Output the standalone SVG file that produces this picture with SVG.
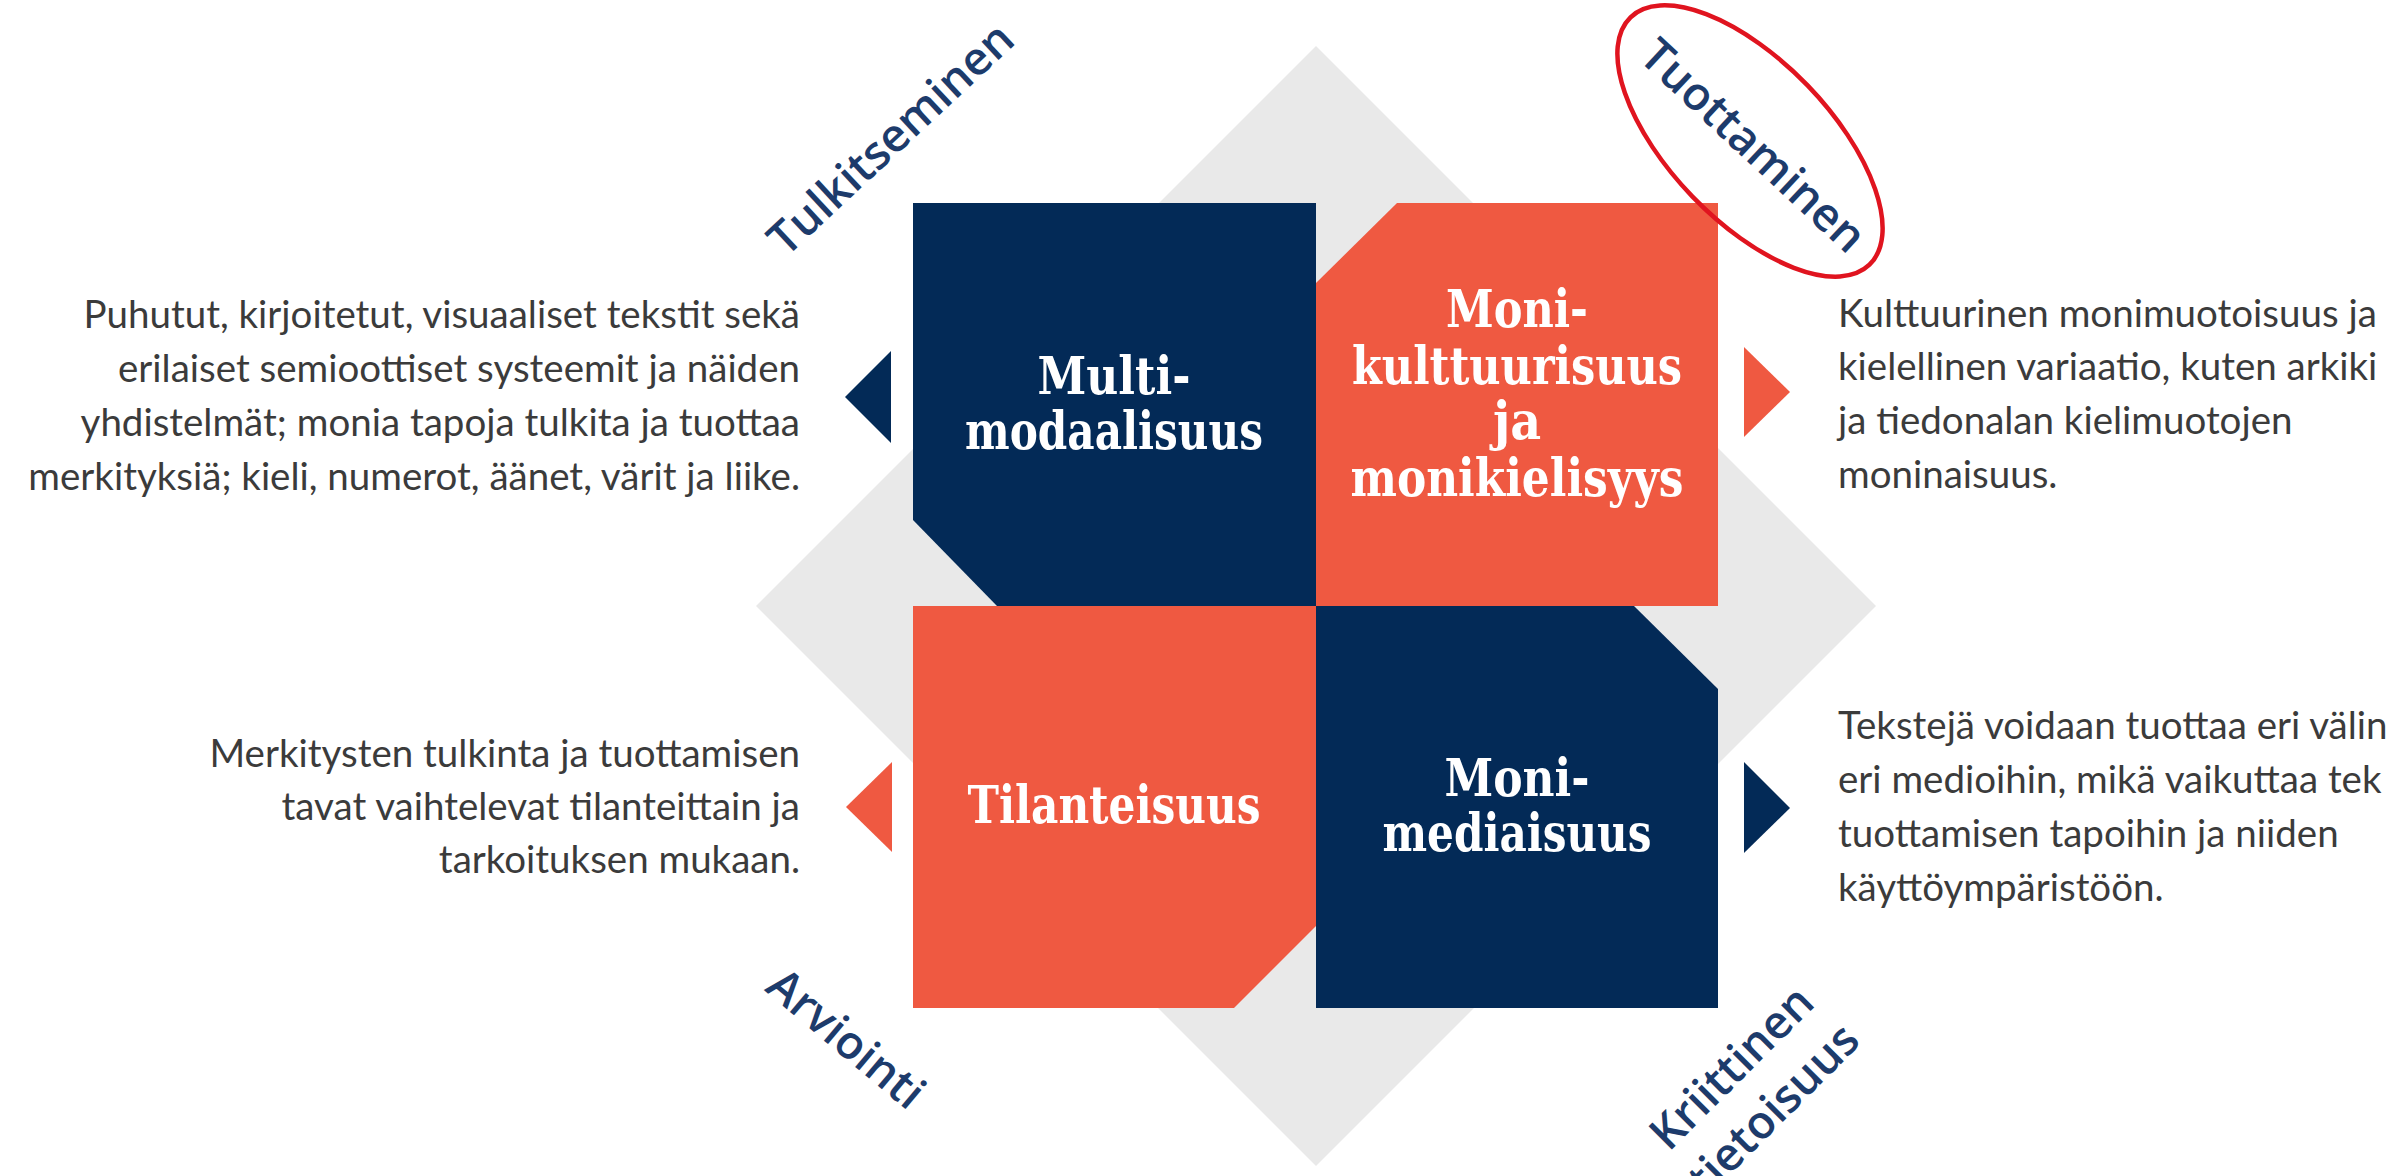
<svg xmlns="http://www.w3.org/2000/svg" width="2387" height="1176" viewBox="0 0 2387 1176">
<style>
.bg{fill:#e9e9e9}
.navy{fill:#032a57}
.orange{fill:#ef5941}
.blk{font-family:"DejaVu Serif Condensed","DejaVu Serif",serif;font-weight:bold;font-size:53px;fill:#ffffff;text-anchor:middle}
.side{font-family:Lato,"Open Sans",sans-serif;font-size:38.5px;fill:#3b3b3b}
.lbl{font-family:"Open Sans",sans-serif;font-weight:600;font-size:46px;fill:#1d3b6b;text-anchor:middle}
.ring{fill:none;stroke:#e0141f;stroke-width:4.5}
</style>
<rect width="2387" height="1176" fill="#ffffff"/>
<g id="background">
<polygon class="bg" points="1316,46 1876,606 1316,1166 756,606"/>
</g>
<g id="multimodaalisuus">
<path class="navy" d="M913,203 H1316 V606 H997 L913,520 Z"/>
<text class="blk" x="1114" y="394" textLength="153" lengthAdjust="spacingAndGlyphs">Multi-</text>
<text class="blk" x="1114" y="449" textLength="298" lengthAdjust="spacingAndGlyphs">modaalisuus</text>
</g>
<g id="monikulttuurisuus">
<path class="orange" d="M1397,203 H1718 V606 H1316 V283 Z"/>
<text class="blk" x="1517" y="327" textLength="142" lengthAdjust="spacingAndGlyphs">Moni-</text>
<text class="blk" x="1517" y="384" textLength="330" lengthAdjust="spacingAndGlyphs">kulttuurisuus</text>
<text class="blk" x="1517" y="439">ja</text>
<text class="blk" x="1517" y="496" textLength="333" lengthAdjust="spacingAndGlyphs">monikielisyys</text>
</g>
<g id="tilanteisuus">
<path class="orange" d="M913,606 H1316 V926 L1234,1008 H913 Z"/>
<text class="blk" x="1114" y="823" textLength="293" lengthAdjust="spacingAndGlyphs">Tilanteisuus</text>
</g>
<g id="monimediaisuus">
<path class="navy" d="M1316,606 H1634 L1718,689 V1008 H1316 Z"/>
<text class="blk" x="1517" y="796" textLength="145" lengthAdjust="spacingAndGlyphs">Moni-</text>
<text class="blk" x="1517" y="851" textLength="269" lengthAdjust="spacingAndGlyphs">mediaisuus</text>
</g>
<g id="connectors">
<polygon class="navy" points="891,351 891,443 845,397"/>
<polygon class="orange" points="1744,347 1744,437 1790,392"/>
<polygon class="orange" points="892,762 892,852 846,807"/>
<polygon class="navy" points="1744,762 1744,853 1790,808"/>
</g>
<g id="text-multimodaalisuus">
<text class="side" text-anchor="end"><tspan x="800" y="328">Puhutut, kirjoitetut, visuaaliset tekstit sekä</tspan><tspan x="800" y="382">erilaiset semioottiset systeemit ja näiden</tspan><tspan x="800" y="436">yhdistelmät; monia tapoja tulkita ja tuottaa</tspan><tspan x="800" y="490">merkityksiä; kieli, numerot, äänet, värit ja liike.</tspan></text>
</g>
<g id="text-monikulttuurisuus">
<text class="side"><tspan x="1838" y="327">Kulttuurinen monimuotoisuus ja</tspan><tspan x="1838" y="380">kielellinen variaatio, kuten arkiki</tspan><tspan x="1838" y="434">ja tiedonalan kielimuotojen</tspan><tspan x="1838" y="488">moninaisuus.</tspan></text>
</g>
<g id="text-tilanteisuus">
<text class="side" text-anchor="end"><tspan x="800" y="767">Merkitysten tulkinta ja tuottamisen</tspan><tspan x="800" y="820">tavat vaihtelevat tilanteittain ja</tspan><tspan x="800" y="873">tarkoituksen mukaan.</tspan></text>
</g>
<g id="text-monimediaisuus">
<text class="side"><tspan x="1838" y="739">Tekstejä voidaan tuottaa eri välin</tspan><tspan x="1838" y="793">eri medioihin, mikä vaikuttaa tek</tspan><tspan x="1838" y="847">tuottamisen tapoihin ja niiden</tspan><tspan x="1838" y="901">käyttöympäristöön.</tspan></text>
</g>
<g id="label-tulkitseminen" transform="translate(892,140) rotate(-43)">
<text class="lbl" x="0" y="14">Tulkitseminen</text>
</g>
<g id="label-tuottaminen" transform="translate(1752,147) rotate(43)">
<text class="lbl" x="0" y="14">Tuottaminen</text>
</g>
<g id="label-arviointi" transform="translate(845,1040) rotate(40)">
<text class="lbl" x="0" y="14">Arviointi</text>
</g>
<g id="label-kriittinen" transform="translate(1754,1090) rotate(-45)">
<text class="lbl" x="0" y="-16">Kriittinen</text>
<text class="lbl" x="0" y="43">tietoisuus</text>
</g>
<g id="highlight">
<ellipse class="ring" cx="1750" cy="141" rx="172" ry="80" transform="rotate(46 1750 141)"/>
</g>
</svg>
